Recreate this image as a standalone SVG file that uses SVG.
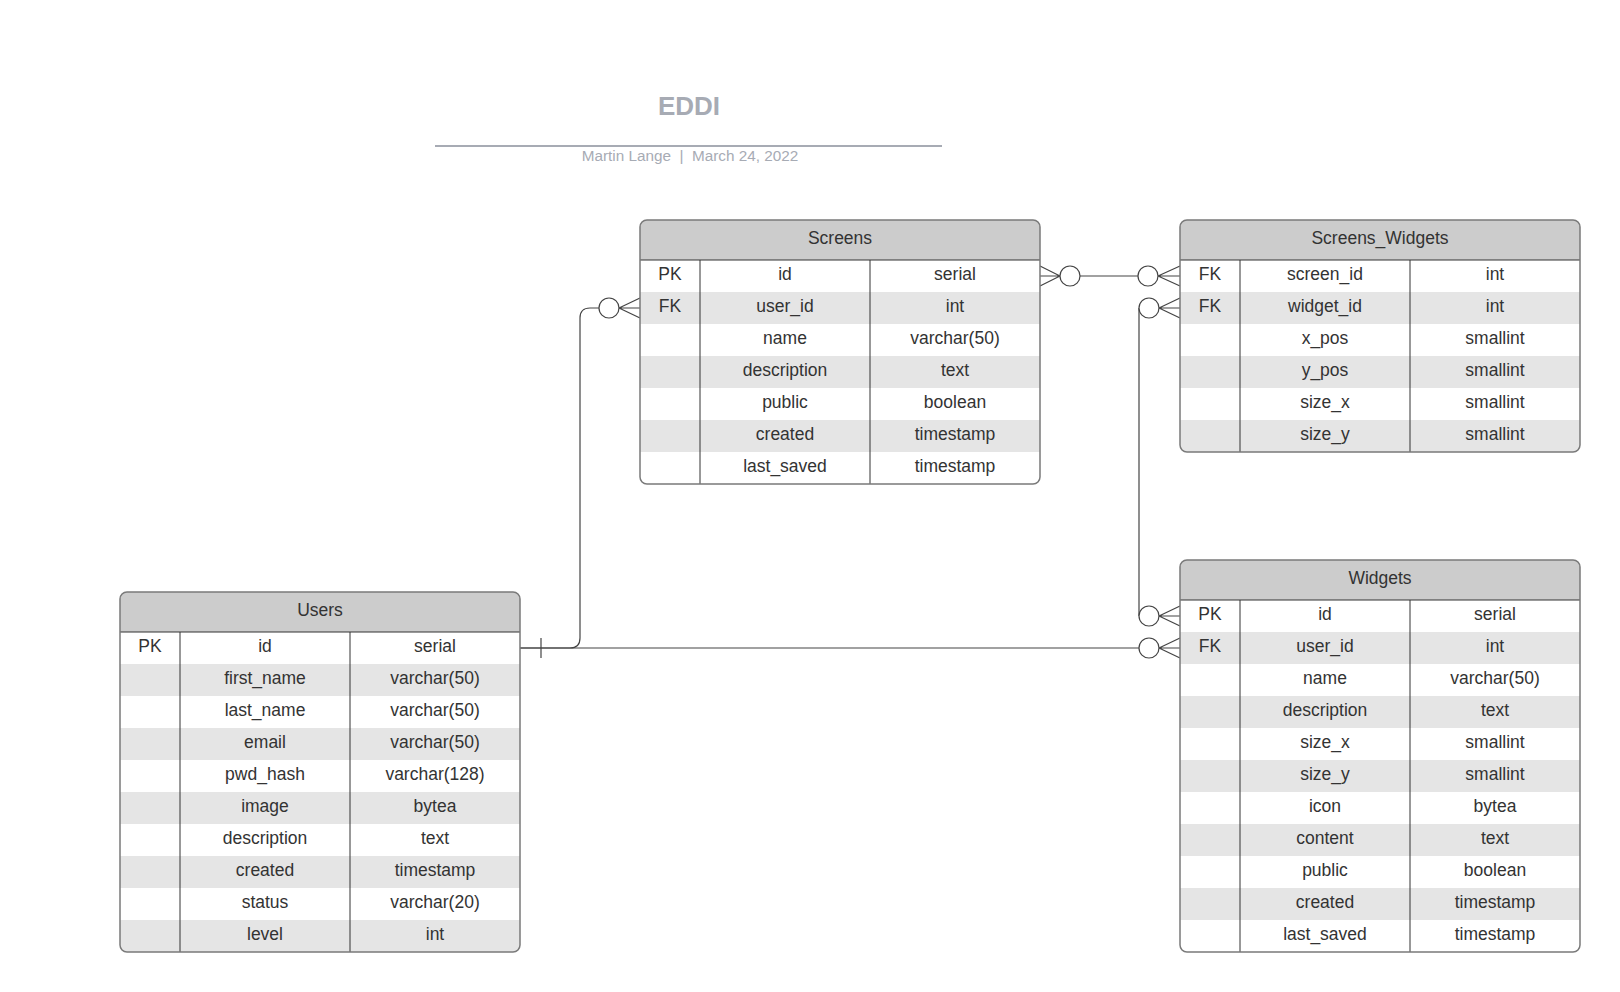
<svg xmlns="http://www.w3.org/2000/svg" width="1620" height="992" viewBox="0 0 1620 992">
<style>
text{font-family:"Liberation Sans",Arial,sans-serif;fill:#333;font-size:17.5px;text-anchor:middle}
.title{font-size:26px;font-weight:bold;fill:#a7abb4}
.sub{font-size:15.3px;fill:#a7abb4}
.hdr{fill:#cccccc}
.alt{fill:#e5e5e5}
.div{stroke:#333;stroke-width:1;fill:none}
.border{fill:none;stroke:#7a7a7a;stroke-width:1.5}
.conn{fill:none;stroke:#444;stroke-width:1.2}
.circ{fill:#fff;stroke:#444;stroke-width:1.2}
</style>
<defs>
<clipPath id="cScreens"><rect x="640" y="220" width="400" height="264" rx="7"/></clipPath>
<clipPath id="cSW"><rect x="1180" y="220" width="400" height="232" rx="7"/></clipPath>
<clipPath id="cWidgets"><rect x="1180" y="560" width="400" height="392" rx="7"/></clipPath>
<clipPath id="cUsers"><rect x="120" y="592" width="400" height="360" rx="7"/></clipPath>
</defs>
<rect width="1620" height="992" fill="#fff"/>

<g id="title">
<text class="title" x="689" y="115">EDDI</text>
<line x1="435" y1="146" x2="942" y2="146" stroke="#a7abb4" stroke-width="2"/>
<text class="sub" x="690" y="161" xml:space="preserve">Martin Lange  |  March 24, 2022</text>
</g>

<g id="connectors">
<!-- Screens.id <-> Screens_Widgets.screen_id -->
<path class="conn" d="M1040,266 L1060,276 M1040,276 L1060,276 M1040,286 L1060,276"/>
<circle class="circ" cx="1070" cy="276" r="10"/>
<path class="conn" d="M1080,276 L1138,276"/>
<circle class="circ" cx="1148" cy="276" r="10"/>
<path class="conn" d="M1158,276 L1180,266 M1158,276 L1180,276 M1158,276 L1180,286"/>
<!-- Users.id -> Screens.user_id -->
<path class="conn" d="M520,648 L570,648 Q580,648 580,638 L580,318 Q580,308 590,308 L599,308"/>
<line class="conn" x1="541" y1="638" x2="541" y2="658"/>
<circle class="circ" cx="609" cy="308" r="10"/>
<path class="conn" d="M619,308 L640,298 M619,308 L640,308 M619,308 L640,318"/>
<!-- Users.id -> Widgets.user_id -->
<path class="conn" d="M520,648 L1139,648"/>
<circle class="circ" cx="1149" cy="648" r="10"/>
<path class="conn" d="M1159,648 L1180,638 M1159,648 L1180,648 M1159,648 L1180,658"/>
<!-- Screens_Widgets.widget_id <-> Widgets.id -->
<path class="conn" d="M1139,308 L1139,616"/>
<circle class="circ" cx="1149" cy="308" r="10"/>
<path class="conn" d="M1159,308 L1180,298 M1159,308 L1180,308 M1159,308 L1180,318"/>
<circle class="circ" cx="1149" cy="616" r="10"/>
<path class="conn" d="M1159,616 L1180,606 M1159,616 L1180,616 M1159,616 L1180,626"/>
</g>

<g id="screens">
<g clip-path="url(#cScreens)">
<rect x="640" y="220" width="400" height="264" fill="#fff"/>
<rect class="hdr" x="640" y="220" width="400" height="40"/>
<rect class="alt" x="640" y="292" width="400" height="32"/>
<rect class="alt" x="640" y="356" width="400" height="32"/>
<rect class="alt" x="640" y="420" width="400" height="32"/>
</g>
<path class="div" d="M640,260 H1040 M700,260 V484 M870,260 V484"/>
<rect class="border" x="640" y="220" width="400" height="264" rx="7"/>
<text x="840" y="244">Screens</text>
<text x="670" y="280">PK</text><text x="785" y="280">id</text><text x="955" y="280">serial</text>
<text x="670" y="312">FK</text><text x="785" y="312">user_id</text><text x="955" y="312">int</text>
<text x="785" y="344">name</text><text x="955" y="344">varchar(50)</text>
<text x="785" y="376">description</text><text x="955" y="376">text</text>
<text x="785" y="408">public</text><text x="955" y="408">boolean</text>
<text x="785" y="440">created</text><text x="955" y="440">timestamp</text>
<text x="785" y="472">last_saved</text><text x="955" y="472">timestamp</text>
</g>

<g id="screens_widgets">
<g clip-path="url(#cSW)">
<rect x="1180" y="220" width="400" height="232" fill="#fff"/>
<rect class="hdr" x="1180" y="220" width="400" height="40"/>
<rect class="alt" x="1180" y="292" width="400" height="32"/>
<rect class="alt" x="1180" y="356" width="400" height="32"/>
<rect class="alt" x="1180" y="420" width="400" height="32"/>
</g>
<path class="div" d="M1180,260 H1580 M1240,260 V452 M1410,260 V452"/>
<rect class="border" x="1180" y="220" width="400" height="232" rx="7"/>
<text x="1380" y="244">Screens_Widgets</text>
<text x="1210" y="280">FK</text><text x="1325" y="280">screen_id</text><text x="1495" y="280">int</text>
<text x="1210" y="312">FK</text><text x="1325" y="312">widget_id</text><text x="1495" y="312">int</text>
<text x="1325" y="344">x_pos</text><text x="1495" y="344">smallint</text>
<text x="1325" y="376">y_pos</text><text x="1495" y="376">smallint</text>
<text x="1325" y="408">size_x</text><text x="1495" y="408">smallint</text>
<text x="1325" y="440">size_y</text><text x="1495" y="440">smallint</text>
</g>

<g id="widgets">
<g clip-path="url(#cWidgets)">
<rect x="1180" y="560" width="400" height="392" fill="#fff"/>
<rect class="hdr" x="1180" y="560" width="400" height="40"/>
<rect class="alt" x="1180" y="632" width="400" height="32"/>
<rect class="alt" x="1180" y="696" width="400" height="32"/>
<rect class="alt" x="1180" y="760" width="400" height="32"/>
<rect class="alt" x="1180" y="824" width="400" height="32"/>
<rect class="alt" x="1180" y="888" width="400" height="32"/>
</g>
<path class="div" d="M1180,600 H1580 M1240,600 V952 M1410,600 V952"/>
<rect class="border" x="1180" y="560" width="400" height="392" rx="7"/>
<text x="1380" y="584">Widgets</text>
<text x="1210" y="620">PK</text><text x="1325" y="620">id</text><text x="1495" y="620">serial</text>
<text x="1210" y="652">FK</text><text x="1325" y="652">user_id</text><text x="1495" y="652">int</text>
<text x="1325" y="684">name</text><text x="1495" y="684">varchar(50)</text>
<text x="1325" y="716">description</text><text x="1495" y="716">text</text>
<text x="1325" y="748">size_x</text><text x="1495" y="748">smallint</text>
<text x="1325" y="780">size_y</text><text x="1495" y="780">smallint</text>
<text x="1325" y="812">icon</text><text x="1495" y="812">bytea</text>
<text x="1325" y="844">content</text><text x="1495" y="844">text</text>
<text x="1325" y="876">public</text><text x="1495" y="876">boolean</text>
<text x="1325" y="908">created</text><text x="1495" y="908">timestamp</text>
<text x="1325" y="940">last_saved</text><text x="1495" y="940">timestamp</text>
</g>

<g id="users">
<g clip-path="url(#cUsers)">
<rect x="120" y="592" width="400" height="360" fill="#fff"/>
<rect class="hdr" x="120" y="592" width="400" height="40"/>
<rect class="alt" x="120" y="664" width="400" height="32"/>
<rect class="alt" x="120" y="728" width="400" height="32"/>
<rect class="alt" x="120" y="792" width="400" height="32"/>
<rect class="alt" x="120" y="856" width="400" height="32"/>
<rect class="alt" x="120" y="920" width="400" height="32"/>
</g>
<path class="div" d="M120,632 H520 M180,632 V952 M350,632 V952"/>
<rect class="border" x="120" y="592" width="400" height="360" rx="7"/>
<text x="320" y="616">Users</text>
<text x="150" y="652">PK</text><text x="265" y="652">id</text><text x="435" y="652">serial</text>
<text x="265" y="684">first_name</text><text x="435" y="684">varchar(50)</text>
<text x="265" y="716">last_name</text><text x="435" y="716">varchar(50)</text>
<text x="265" y="748">email</text><text x="435" y="748">varchar(50)</text>
<text x="265" y="780">pwd_hash</text><text x="435" y="780">varchar(128)</text>
<text x="265" y="812">image</text><text x="435" y="812">bytea</text>
<text x="265" y="844">description</text><text x="435" y="844">text</text>
<text x="265" y="876">created</text><text x="435" y="876">timestamp</text>
<text x="265" y="908">status</text><text x="435" y="908">varchar(20)</text>
<text x="265" y="940">level</text><text x="435" y="940">int</text>
</g>
</svg>
